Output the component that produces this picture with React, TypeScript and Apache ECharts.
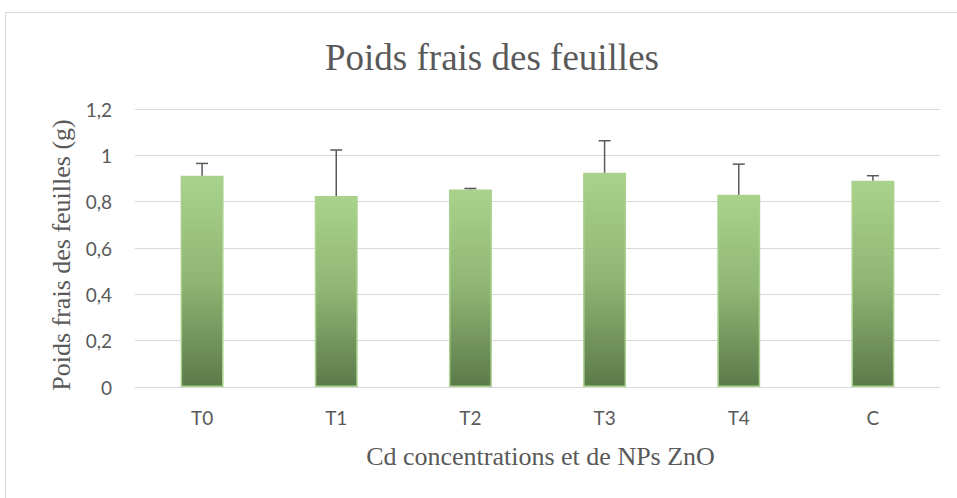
import React, { useEffect, useRef } from "react";
import * as echarts from "echarts";

const categories = ["T0", "T1", "T2", "T3", "T4", "C"];
const means = [0.912, 0.824, 0.853, 0.925, 0.83, 0.89];
const errors = [0.053, 0.199, 0.004, 0.138, 0.132, 0.022];
const yTicks = [0, 0.2, 0.4, 0.6, 0.8, 1, 1.2];

export default function App() {
  const ref = useRef<HTMLDivElement>(null);
  useEffect(() => {
    if (!ref.current) return;
    const chart = echarts.init(ref.current, null, { renderer: "svg" });
    const labelColor = "#595959";
    chart.setOption({
      animation: false,
      backgroundColor: "#ffffff",
      title: {
        text: "Poids frais des feuilles",
        left: 320,
        top: 34,
        textStyle: {
          fontFamily: "Liberation Serif",
          fontSize: 37,
          fontWeight: "normal",
          color: labelColor,
        },
      },
      graphic: [
        {
          type: "rect",
          shape: { x: 5.5, y: 12.5, width: 960, height: 500 },
          style: { fill: "none", stroke: "#d9d9d9", lineWidth: 1 },
          silent: true,
        },
      ],
      grid: { left: 135, right: 17, top: 109, bottom: 111 },
      xAxis: {
        type: "category",
        data: categories,
        name: "Cd concentrations et de NPs ZnO",
        nameLocation: "middle",
        nameGap: 56,
        nameTextStyle: {
          fontFamily: "Liberation Serif",
          fontSize: 26,
          color: labelColor,
          padding: [0, 0, 0, 6],
        },
        axisLine: { lineStyle: { color: "#d9d9d9" } },
        axisTick: { show: false },
        axisLabel: {
          fontFamily: "Lato",
          fontSize: 19,
          color: labelColor,
          margin: 21,
        },
      },
      yAxis: {
        type: "value",
        min: 0,
        max: 1.2,
        interval: 0.2,
        name: "Poids frais des feuilles (g)",
        nameLocation: "middle",
        nameGap: 60,
        nameTextStyle: {
          fontFamily: "Liberation Serif",
          fontSize: 26,
          color: labelColor,
          padding: [0, 14, 0, 0],
        },
        axisLine: { show: false },
        axisTick: { show: false },
        splitLine: { lineStyle: { color: "#d9d9d9", width: 1 } },
        axisLabel: {
          fontFamily: "Lato",
          fontSize: 19,
          color: labelColor,
          margin: 23,
          formatter: (v: number) => {
            const t = yTicks.find((x) => Math.abs(x - v) < 1e-9);
            return String(t !== undefined ? t : v).replace(".", ",");
          },
        },
      },
      series: [
        {
          type: "bar",
          data: means,
          barWidth: "32%",
          itemStyle: {
            borderColor: "#a9d18e",
            borderWidth: 1.5,
            color: new echarts.graphic.LinearGradient(0, 0, 0, 1, [
              { offset: 0, color: "#a9d38a" },
              { offset: 0.5, color: "#8fb573" },
              { offset: 1, color: "#5b7a4a" },
            ]),
          },
        },
        {
          type: "custom",
          data: means.map((m, i) => [i, m, m + errors[i]]),
          z: 10,
          renderItem: (params: any, api: any) => {
            const x = api.value(0);
            const lo = api.coord([x, api.value(1)]);
            const hi = api.coord([x, api.value(2)]);
            const cap = 6;
            const style = { stroke: "#595959", lineWidth: 1.5 };
            return {
              type: "group",
              children: [
                { type: "line", shape: { x1: lo[0], y1: lo[1], x2: hi[0], y2: hi[1] }, style },
                { type: "line", shape: { x1: hi[0] - cap, y1: hi[1], x2: hi[0] + cap, y2: hi[1] }, style },
              ],
            };
          },
        },
      ],
    });
    return () => chart.dispose();
  }, []);
  return (
    <div
      ref={ref}
      style={{ position: "fixed", left: 0, top: 0, width: 957, height: 498 }}
    />
  );
}
